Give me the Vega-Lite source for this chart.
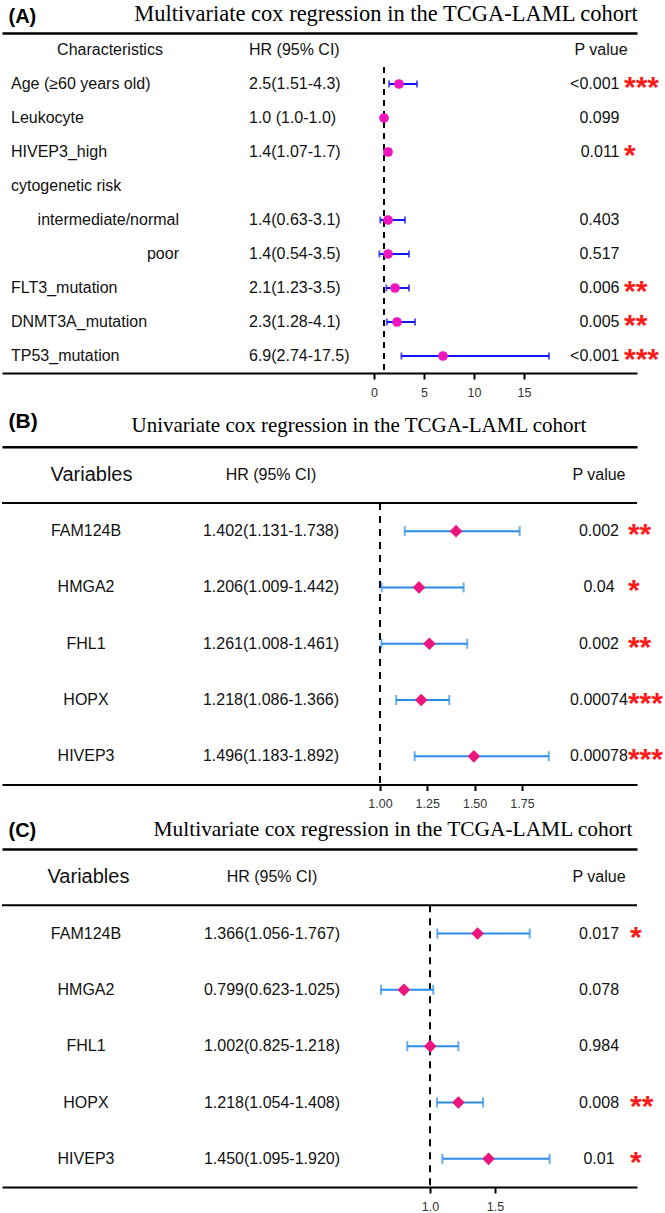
{
  "$schema": "https://vega.github.io/schema/vega-lite/v6.json",
  "background": "white",
  "padding": {"left": 1, "top": 2, "right": 0, "bottom": 0},
  "spacing": 64,
  "bounds": "flush",
  "config": {
    "view": {"stroke": null},
    "font": "Liberation Sans",
    "text": {"font": "Liberation Sans", "fontSize": 16, "color": "#111111", "baseline": "middle"},
    "axis": {"labelFont": "Liberation Sans", "title": null}
  },
  "datasets": {
    "ha": [{"tag": "(A)", "title": "Multivariate cox regression in the TCGA-LAML cohort", "c1": "Characteristics", "c2": "HR (95% CI)", "c3": "P value"}],
    "hb": [{"tag": "(B)", "title": "Univariate cox regression in the TCGA-LAML cohort", "c1": "Variables", "c2": "HR (95% CI)", "c3": "P value"}],
    "hc": [{"tag": "(C)", "title": "Multivariate cox regression in the TCGA-LAML cohort", "c1": "Variables", "c2": "HR (95% CI)", "c3": "P value"}],
    "a": [
      {"var": "Age (≥60 years old)", "level": 0, "hr": 2.5, "lo": 1.51, "hi": 4.3, "ci": "2.5(1.51-4.3)", "p": "<0.001", "sig": "***"},
      {"var": "Leukocyte", "level": 0, "hr": 1.0, "lo": 1.0, "hi": 1.0, "ci": "1.0 (1.0-1.0)", "p": "0.099", "sig": ""},
      {"var": "HIVEP3_high", "level": 0, "hr": 1.4, "lo": 1.07, "hi": 1.7, "ci": "1.4(1.07-1.7)", "p": "0.011", "sig": "*"},
      {"var": "cytogenetic risk", "level": 0, "hr": null, "lo": null, "hi": null, "ci": "", "p": "", "sig": ""},
      {"var": "intermediate/normal", "level": 1, "hr": 1.4, "lo": 0.63, "hi": 3.1, "ci": "1.4(0.63-3.1)", "p": "0.403", "sig": ""},
      {"var": "poor", "level": 1, "hr": 1.4, "lo": 0.54, "hi": 3.5, "ci": "1.4(0.54-3.5)", "p": "0.517", "sig": ""},
      {"var": "FLT3_mutation", "level": 0, "hr": 2.1, "lo": 1.23, "hi": 3.5, "ci": "2.1(1.23-3.5)", "p": "0.006", "sig": "**"},
      {"var": "DNMT3A_mutation", "level": 0, "hr": 2.3, "lo": 1.28, "hi": 4.1, "ci": "2.3(1.28-4.1)", "p": "0.005", "sig": "**"},
      {"var": "TP53_mutation", "level": 0, "hr": 6.9, "lo": 2.74, "hi": 17.5, "ci": "6.9(2.74-17.5)", "p": "<0.001", "sig": "***"}
    ],
    "b": [
      {"var": "FAM124B", "hr": 1.402, "lo": 1.131, "hi": 1.738, "ci": "1.402(1.131-1.738)", "p": "0.002", "sig": "**"},
      {"var": "HMGA2", "hr": 1.206, "lo": 1.009, "hi": 1.442, "ci": "1.206(1.009-1.442)", "p": "0.04", "sig": "*"},
      {"var": "FHL1", "hr": 1.261, "lo": 1.008, "hi": 1.461, "ci": "1.261(1.008-1.461)", "p": "0.002", "sig": "**"},
      {"var": "HOPX", "hr": 1.218, "lo": 1.086, "hi": 1.366, "ci": "1.218(1.086-1.366)", "p": "0.00074", "sig": "***"},
      {"var": "HIVEP3", "hr": 1.496, "lo": 1.183, "hi": 1.892, "ci": "1.496(1.183-1.892)", "p": "0.00078", "sig": "***"}
    ],
    "c": [
      {"var": "FAM124B", "hr": 1.366, "lo": 1.056, "hi": 1.767, "ci": "1.366(1.056-1.767)", "p": "0.017", "sig": "*"},
      {"var": "HMGA2", "hr": 0.799, "lo": 0.623, "hi": 1.025, "ci": "0.799(0.623-1.025)", "p": "0.078", "sig": ""},
      {"var": "FHL1", "hr": 1.002, "lo": 0.825, "hi": 1.218, "ci": "1.002(0.825-1.218)", "p": "0.984", "sig": ""},
      {"var": "HOPX", "hr": 1.218, "lo": 1.054, "hi": 1.408, "ci": "1.218(1.054-1.408)", "p": "0.008", "sig": "**"},
      {"var": "HIVEP3", "hr": 1.45, "lo": 1.095, "hi": 1.92, "ci": "1.450(1.095-1.920)", "p": "0.01", "sig": "*"}
    ]
  },
  "vconcat": [
    {
      "width": 635, "height": 340,
      "data": {"name": "a"},
      "resolve": {"axis": {"x": "independent"}},
      "layer": [
        {"data": {"name": "ha"}, "mark": {"type": "text", "align": "center"},
         "encoding": {
           "x": {"datum": -26.4, "type": "quantitative", "scale": {"domain": [-37.2, 26.3], "nice": false, "zero": false},
                 "axis": {"orient": "top", "domain": true, "domainWidth": 2.5, "domainColor": "#000000", "ticks": false, "labels": false, "grid": false, "title": null}},
           "y": {"datum": "hdr", "type": "nominal", "scale": {"domain": ["hdr", "Age (≥60 years old)", "Leukocyte", "HIVEP3_high", "cytogenetic risk", "intermediate/normal", "poor", "FLT3_mutation", "DNMT3A_mutation", "TP53_mutation"], "paddingInner": 0, "paddingOuter": 0}, "axis": null},
           "text": {"field": "c1"}}},
        {"data": {"name": "ha"}, "mark": {"type": "text", "align": "left"},
         "encoding": {
           "x": {"datum": -12.5, "type": "quantitative", "scale": {"domain": [-37.2, 26.3], "nice": false, "zero": false}, "axis": null},
           "y": {"datum": "hdr", "type": "nominal", "scale": {"domain": ["hdr", "Age (≥60 years old)", "Leukocyte", "HIVEP3_high", "cytogenetic risk", "intermediate/normal", "poor", "FLT3_mutation", "DNMT3A_mutation", "TP53_mutation"], "paddingInner": 0, "paddingOuter": 0}, "axis": null},
           "text": {"field": "c2"}}},
        {"data": {"name": "ha"}, "mark": {"type": "text", "align": "center"},
         "encoding": {
           "x": {"datum": 22.7, "type": "quantitative", "scale": {"domain": [-37.2, 26.3], "nice": false, "zero": false}, "axis": null},
           "y": {"datum": "hdr", "type": "nominal", "scale": {"domain": ["hdr", "Age (≥60 years old)", "Leukocyte", "HIVEP3_high", "cytogenetic risk", "intermediate/normal", "poor", "FLT3_mutation", "DNMT3A_mutation", "TP53_mutation"], "paddingInner": 0, "paddingOuter": 0}, "axis": null},
           "text": {"field": "c3"}}},
        {"data": {"name": "ha"}, "mark": {"type": "text", "align": "left", "baseline": "alphabetic", "fontSize": 20, "fontWeight": "bold", "color": "#000000", "dy": -27.3},
         "encoding": {
           "x": {"datum": -36.55, "type": "quantitative", "scale": {"domain": [-37.2, 26.3], "nice": false, "zero": false}, "axis": null},
           "y": {"datum": "hdr", "type": "nominal", "scale": {"domain": ["hdr", "Age (≥60 years old)", "Leukocyte", "HIVEP3_high", "cytogenetic risk", "intermediate/normal", "poor", "FLT3_mutation", "DNMT3A_mutation", "TP53_mutation"], "paddingInner": 0, "paddingOuter": 0}, "axis": null},
           "text": {"field": "tag"}}},
        {"data": {"name": "ha"}, "mark": {"type": "text", "align": "center", "baseline": "alphabetic", "font": "Liberation Serif", "fontSize": 22.5, "color": "#000000", "dy": -29.3},
         "encoding": {
           "x": {"datum": 1.2, "type": "quantitative", "scale": {"domain": [-37.2, 26.3], "nice": false, "zero": false}, "axis": null},
           "y": {"datum": "hdr", "type": "nominal", "scale": {"domain": ["hdr", "Age (≥60 years old)", "Leukocyte", "HIVEP3_high", "cytogenetic risk", "intermediate/normal", "poor", "FLT3_mutation", "DNMT3A_mutation", "TP53_mutation"], "paddingInner": 0, "paddingOuter": 0}, "axis": null},
           "text": {"field": "title"}}},
        {"data": {"name": "ha"}, "mark": {"type": "rule", "strokeDash": [6, 5], "strokeWidth": 2, "color": "#000000"},
         "encoding": {
           "x": {"datum": 1, "type": "quantitative", "scale": {"domain": [-37.2, 26.3], "nice": false, "zero": false}, "axis": null},
           "y": {"datum": "Age (≥60 years old)", "type": "nominal", "bandPosition": 0, "scale": {"domain": ["hdr", "Age (≥60 years old)", "Leukocyte", "HIVEP3_high", "cytogenetic risk", "intermediate/normal", "poor", "FLT3_mutation", "DNMT3A_mutation", "TP53_mutation"], "paddingInner": 0, "paddingOuter": 0}, "axis": null},
           "y2": {"value": "height"}}},
        {"transform": [{"filter": "isValid(datum.hr)"}],
         "mark": {"type": "rule", "strokeWidth": 2, "color": "#1414F0"},
         "encoding": {
           "x": {"field": "lo", "type": "quantitative", "scale": {"domain": [-37.2, 26.3], "nice": false, "zero": false},
                 "axis": {"orient": "bottom", "values": [0, 5, 10, 15], "format": "d", "domain": true, "domainWidth": 2, "domainColor": "#000000", "ticks": true, "tickSize": 6, "tickWidth": 2, "tickColor": "#000000", "labelFontSize": 12.5, "labelColor": "#333333", "labelPadding": 7, "grid": false, "title": null}},
           "x2": {"field": "hi"},
           "y": {"field": "var", "type": "nominal", "scale": {"domain": ["hdr", "Age (≥60 years old)", "Leukocyte", "HIVEP3_high", "cytogenetic risk", "intermediate/normal", "poor", "FLT3_mutation", "DNMT3A_mutation", "TP53_mutation"], "paddingInner": 0, "paddingOuter": 0}, "axis": null}}},
        {"transform": [{"filter": "isValid(datum.hr)"}],
         "mark": {"type": "tick", "orient": "vertical", "size": 7, "thickness": 2, "color": "#1414F0"},
         "encoding": {
           "x": {"field": "lo", "type": "quantitative", "scale": {"domain": [-37.2, 26.3], "nice": false, "zero": false}, "axis": null},
           "y": {"field": "var", "type": "nominal", "scale": {"domain": ["hdr", "Age (≥60 years old)", "Leukocyte", "HIVEP3_high", "cytogenetic risk", "intermediate/normal", "poor", "FLT3_mutation", "DNMT3A_mutation", "TP53_mutation"], "paddingInner": 0, "paddingOuter": 0}, "axis": null}}},
        {"transform": [{"filter": "isValid(datum.hr)"}],
         "mark": {"type": "tick", "orient": "vertical", "size": 7, "thickness": 2, "color": "#1414F0"},
         "encoding": {
           "x": {"field": "hi", "type": "quantitative", "scale": {"domain": [-37.2, 26.3], "nice": false, "zero": false}, "axis": null},
           "y": {"field": "var", "type": "nominal", "scale": {"domain": ["hdr", "Age (≥60 years old)", "Leukocyte", "HIVEP3_high", "cytogenetic risk", "intermediate/normal", "poor", "FLT3_mutation", "DNMT3A_mutation", "TP53_mutation"], "paddingInner": 0, "paddingOuter": 0}, "axis": null}}},
        {"transform": [{"filter": "isValid(datum.hr)"}],
         "mark": {"type": "point", "shape": "circle", "filled": true, "size": 95, "opacity": 1, "color": "#EE16BE"},
         "encoding": {
           "x": {"field": "hr", "type": "quantitative", "scale": {"domain": [-37.2, 26.3], "nice": false, "zero": false}, "axis": null},
           "y": {"field": "var", "type": "nominal", "scale": {"domain": ["hdr", "Age (≥60 years old)", "Leukocyte", "HIVEP3_high", "cytogenetic risk", "intermediate/normal", "poor", "FLT3_mutation", "DNMT3A_mutation", "TP53_mutation"], "paddingInner": 0, "paddingOuter": 0}, "axis": null}}},
        {"transform": [{"filter": "datum.level == 0"}],
         "mark": {"type": "text", "align": "left"},
         "encoding": {
           "x": {"datum": -36.3, "type": "quantitative", "scale": {"domain": [-37.2, 26.3], "nice": false, "zero": false}, "axis": null},
           "y": {"field": "var", "type": "nominal", "scale": {"domain": ["hdr", "Age (≥60 years old)", "Leukocyte", "HIVEP3_high", "cytogenetic risk", "intermediate/normal", "poor", "FLT3_mutation", "DNMT3A_mutation", "TP53_mutation"], "paddingInner": 0, "paddingOuter": 0}, "axis": null},
           "text": {"field": "var"}}},
        {"transform": [{"filter": "datum.level == 1"}],
         "mark": {"type": "text", "align": "right"},
         "encoding": {
           "x": {"datum": -19.5, "type": "quantitative", "scale": {"domain": [-37.2, 26.3], "nice": false, "zero": false}, "axis": null},
           "y": {"field": "var", "type": "nominal", "scale": {"domain": ["hdr", "Age (≥60 years old)", "Leukocyte", "HIVEP3_high", "cytogenetic risk", "intermediate/normal", "poor", "FLT3_mutation", "DNMT3A_mutation", "TP53_mutation"], "paddingInner": 0, "paddingOuter": 0}, "axis": null},
           "text": {"field": "var"}}},
        {"mark": {"type": "text", "align": "left"},
         "encoding": {
           "x": {"datum": -12.5, "type": "quantitative", "scale": {"domain": [-37.2, 26.3], "nice": false, "zero": false}, "axis": null},
           "y": {"field": "var", "type": "nominal", "scale": {"domain": ["hdr", "Age (≥60 years old)", "Leukocyte", "HIVEP3_high", "cytogenetic risk", "intermediate/normal", "poor", "FLT3_mutation", "DNMT3A_mutation", "TP53_mutation"], "paddingInner": 0, "paddingOuter": 0}, "axis": null},
           "text": {"field": "ci"}}},
        {"mark": {"type": "text", "align": "right"},
         "encoding": {
           "x": {"datum": 24.55, "type": "quantitative", "scale": {"domain": [-37.2, 26.3], "nice": false, "zero": false}, "axis": null},
           "y": {"field": "var", "type": "nominal", "scale": {"domain": ["hdr", "Age (≥60 years old)", "Leukocyte", "HIVEP3_high", "cytogenetic risk", "intermediate/normal", "poor", "FLT3_mutation", "DNMT3A_mutation", "TP53_mutation"], "paddingInner": 0, "paddingOuter": 0}, "axis": null},
           "text": {"field": "p"}}},
        {"mark": {"type": "text", "align": "left", "baseline": "alphabetic", "fontSize": 30, "fontWeight": "bold", "color": "#FF1A1A", "dy": 13},
         "encoding": {
           "x": {"datum": 25.0, "type": "quantitative", "scale": {"domain": [-37.2, 26.3], "nice": false, "zero": false}, "axis": null},
           "y": {"field": "var", "type": "nominal", "scale": {"domain": ["hdr", "Age (≥60 years old)", "Leukocyte", "HIVEP3_high", "cytogenetic risk", "intermediate/normal", "poor", "FLT3_mutation", "DNMT3A_mutation", "TP53_mutation"], "paddingInner": 0, "paddingOuter": 0}, "axis": null},
           "text": {"field": "sig"}}}
      ]
    },
    {
      "width": 635, "height": 347.5,
      "data": {"name": "b"},
      "resolve": {"axis": {"x": "independent"}},
      "layer": [
        {"data": {"name": "hb"}, "mark": {"type": "text", "align": "center", "fontSize": 20},
         "encoding": {
           "x": {"datum": -0.524, "type": "quantitative", "scale": {"domain": [-0.997, 2.358], "nice": false, "zero": false},
                 "axis": {"orient": "top", "offset": -9.7, "domain": true, "domainWidth": 2.5, "domainColor": "#000000", "ticks": false, "labels": false, "grid": false, "title": null}},
           "y": {"datum": "hdr", "type": "nominal", "scale": {"domain": ["hdr", "FAM124B", "HMGA2", "FHL1", "HOPX", "HIVEP3"], "paddingInner": 0, "paddingOuter": 0.086, "align": 1}, "axis": null},
           "text": {"field": "c1"}}},
        {"data": {"name": "hb"}, "mark": {"type": "rule", "strokeWidth": 2, "color": "#000000"},
         "encoding": {
           "y": {"datum": "hdr", "type": "nominal", "bandPosition": 1, "scale": {"domain": ["hdr", "FAM124B", "HMGA2", "FHL1", "HOPX", "HIVEP3"], "paddingInner": 0, "paddingOuter": 0.086, "align": 1}, "axis": null}}},
        {"data": {"name": "hb"}, "mark": {"type": "text", "align": "center"},
         "encoding": {
           "x": {"datum": 0.4242, "type": "quantitative", "scale": {"domain": [-0.997, 2.358], "nice": false, "zero": false}, "axis": null},
           "y": {"datum": "hdr", "type": "nominal", "scale": {"domain": ["hdr", "FAM124B", "HMGA2", "FHL1", "HOPX", "HIVEP3"], "paddingInner": 0, "paddingOuter": 0.086, "align": 1}, "axis": null},
           "text": {"field": "c2"}}},
        {"data": {"name": "hb"}, "mark": {"type": "text", "align": "center"},
         "encoding": {
           "x": {"datum": 2.157, "type": "quantitative", "scale": {"domain": [-0.997, 2.358], "nice": false, "zero": false}, "axis": null},
           "y": {"datum": "hdr", "type": "nominal", "scale": {"domain": ["hdr", "FAM124B", "HMGA2", "FHL1", "HOPX", "HIVEP3"], "paddingInner": 0, "paddingOuter": 0.086, "align": 1}, "axis": null},
           "text": {"field": "c3"}}},
        {"data": {"name": "hb"}, "mark": {"type": "text", "align": "left", "baseline": "alphabetic", "fontSize": 21, "fontWeight": "bold", "color": "#000000", "dy": -46.4},
         "encoding": {
           "x": {"datum": -0.9625, "type": "quantitative", "scale": {"domain": [-0.997, 2.358], "nice": false, "zero": false}, "axis": null},
           "y": {"datum": "hdr", "type": "nominal", "scale": {"domain": ["hdr", "FAM124B", "HMGA2", "FHL1", "HOPX", "HIVEP3"], "paddingInner": 0, "paddingOuter": 0.086, "align": 1}, "axis": null},
           "text": {"field": "tag"}}},
        {"data": {"name": "hb"}, "mark": {"type": "text", "align": "center", "baseline": "alphabetic", "font": "Liberation Serif", "fontSize": 21, "color": "#000000", "dy": -42.4},
         "encoding": {
           "x": {"datum": 0.889, "type": "quantitative", "scale": {"domain": [-0.997, 2.358], "nice": false, "zero": false}, "axis": null},
           "y": {"datum": "hdr", "type": "nominal", "scale": {"domain": ["hdr", "FAM124B", "HMGA2", "FHL1", "HOPX", "HIVEP3"], "paddingInner": 0, "paddingOuter": 0.086, "align": 1}, "axis": null},
           "text": {"field": "title"}}},
        {"data": {"name": "hb"}, "mark": {"type": "rule", "strokeDash": [7, 6], "strokeWidth": 2, "color": "#000000"},
         "encoding": {
           "x": {"datum": 1, "type": "quantitative", "scale": {"domain": [-0.997, 2.358], "nice": false, "zero": false}, "axis": null},
           "y": {"datum": "FAM124B", "type": "nominal", "bandPosition": 0, "scale": {"domain": ["hdr", "FAM124B", "HMGA2", "FHL1", "HOPX", "HIVEP3"], "paddingInner": 0, "paddingOuter": 0.086, "align": 1}, "axis": null},
           "y2": {"value": "height"}}},
        {"mark": {"type": "rule", "strokeWidth": 2, "color": "#2B8CE6"},
         "encoding": {
           "x": {"field": "lo", "type": "quantitative", "scale": {"domain": [-0.997, 2.358], "nice": false, "zero": false},
                 "axis": {"orient": "bottom", "values": [1, 1.25, 1.5, 1.75], "format": ".2f", "domain": true, "domainWidth": 2, "domainColor": "#000000", "ticks": true, "tickSize": 6, "tickWidth": 2, "tickColor": "#000000", "labelFontSize": 12.5, "labelColor": "#333333", "labelPadding": 7, "grid": false, "title": null}},
           "x2": {"field": "hi"},
           "y": {"field": "var", "type": "nominal", "scale": {"domain": ["hdr", "FAM124B", "HMGA2", "FHL1", "HOPX", "HIVEP3"], "paddingInner": 0, "paddingOuter": 0.086, "align": 1}, "axis": null}}},
        {"mark": {"type": "tick", "orient": "vertical", "size": 10, "thickness": 2, "color": "#2B8CE6"},
         "encoding": {
           "x": {"field": "lo", "type": "quantitative", "scale": {"domain": [-0.997, 2.358], "nice": false, "zero": false}, "axis": null},
           "y": {"field": "var", "type": "nominal", "scale": {"domain": ["hdr", "FAM124B", "HMGA2", "FHL1", "HOPX", "HIVEP3"], "paddingInner": 0, "paddingOuter": 0.086, "align": 1}, "axis": null}}},
        {"mark": {"type": "tick", "orient": "vertical", "size": 10, "thickness": 2, "color": "#2B8CE6"},
         "encoding": {
           "x": {"field": "hi", "type": "quantitative", "scale": {"domain": [-0.997, 2.358], "nice": false, "zero": false}, "axis": null},
           "y": {"field": "var", "type": "nominal", "scale": {"domain": ["hdr", "FAM124B", "HMGA2", "FHL1", "HOPX", "HIVEP3"], "paddingInner": 0, "paddingOuter": 0.086, "align": 1}, "axis": null}}},
        {"mark": {"type": "point", "shape": "diamond", "filled": true, "size": 160, "opacity": 1, "color": "#EC167E"},
         "encoding": {
           "x": {"field": "hr", "type": "quantitative", "scale": {"domain": [-0.997, 2.358], "nice": false, "zero": false}, "axis": null},
           "y": {"field": "var", "type": "nominal", "scale": {"domain": ["hdr", "FAM124B", "HMGA2", "FHL1", "HOPX", "HIVEP3"], "paddingInner": 0, "paddingOuter": 0.086, "align": 1}, "axis": null}}},
        {"mark": {"type": "text", "align": "center"},
         "encoding": {
           "x": {"datum": -0.553, "type": "quantitative", "scale": {"domain": [-0.997, 2.358], "nice": false, "zero": false}, "axis": null},
           "y": {"field": "var", "type": "nominal", "scale": {"domain": ["hdr", "FAM124B", "HMGA2", "FHL1", "HOPX", "HIVEP3"], "paddingInner": 0, "paddingOuter": 0.086, "align": 1}, "axis": null},
           "text": {"field": "var"}}},
        {"mark": {"type": "text", "align": "center"},
         "encoding": {
           "x": {"datum": 0.4242, "type": "quantitative", "scale": {"domain": [-0.997, 2.358], "nice": false, "zero": false}, "axis": null},
           "y": {"field": "var", "type": "nominal", "scale": {"domain": ["hdr", "FAM124B", "HMGA2", "FHL1", "HOPX", "HIVEP3"], "paddingInner": 0, "paddingOuter": 0.086, "align": 1}, "axis": null},
           "text": {"field": "ci"}}},
        {"mark": {"type": "text", "align": "center"},
         "encoding": {
           "x": {"datum": 2.157, "type": "quantitative", "scale": {"domain": [-0.997, 2.358], "nice": false, "zero": false}, "axis": null},
           "y": {"field": "var", "type": "nominal", "scale": {"domain": ["hdr", "FAM124B", "HMGA2", "FHL1", "HOPX", "HIVEP3"], "paddingInner": 0, "paddingOuter": 0.086, "align": 1}, "axis": null},
           "text": {"field": "p"}}},
        {"mark": {"type": "text", "align": "left", "baseline": "alphabetic", "fontSize": 30, "fontWeight": "bold", "color": "#FF1A1A", "dy": 13},
         "encoding": {
           "x": {"datum": 2.3101, "type": "quantitative", "scale": {"domain": [-0.997, 2.358], "nice": false, "zero": false}, "axis": null},
           "y": {"field": "var", "type": "nominal", "scale": {"domain": ["hdr", "FAM124B", "HMGA2", "FHL1", "HOPX", "HIVEP3"], "paddingInner": 0, "paddingOuter": 0.086, "align": 1}, "axis": null},
           "text": {"field": "sig"}}}
      ]
    },
    {
      "width": 635, "height": 338,
      "data": {"name": "c"},
      "resolve": {"axis": {"x": "independent"}},
      "layer": [
        {"data": {"name": "hc"}, "mark": {"type": "text", "align": "center", "fontSize": 20},
         "encoding": {
           "x": {"datum": -1.627, "type": "quantitative", "scale": {"domain": [-2.292, 2.592], "nice": false, "zero": false},
                 "axis": {"orient": "top", "domain": true, "domainWidth": 2.5, "domainColor": "#000000", "ticks": false, "labels": false, "grid": false, "title": null}},
           "y": {"datum": "hdr", "type": "nominal", "scale": {"domain": ["hdr", "FAM124B", "HMGA2", "FHL1", "HOPX", "HIVEP3"], "paddingInner": 0, "paddingOuter": 0}, "axis": null},
           "text": {"field": "c1"}}},
        {"data": {"name": "hc"}, "mark": {"type": "rule", "strokeWidth": 2, "color": "#000000"},
         "encoding": {
           "y": {"datum": "hdr", "type": "nominal", "bandPosition": 1, "scale": {"domain": ["hdr", "FAM124B", "HMGA2", "FHL1", "HOPX", "HIVEP3"], "paddingInner": 0, "paddingOuter": 0}, "axis": null}}},
        {"data": {"name": "hc"}, "mark": {"type": "text", "align": "center"},
         "encoding": {
           "x": {"datum": -0.2154, "type": "quantitative", "scale": {"domain": [-2.292, 2.592], "nice": false, "zero": false}, "axis": null},
           "y": {"datum": "hdr", "type": "nominal", "scale": {"domain": ["hdr", "FAM124B", "HMGA2", "FHL1", "HOPX", "HIVEP3"], "paddingInner": 0, "paddingOuter": 0}, "axis": null},
           "text": {"field": "c2"}}},
        {"data": {"name": "hc"}, "mark": {"type": "text", "align": "center"},
         "encoding": {
           "x": {"datum": 2.3, "type": "quantitative", "scale": {"domain": [-2.292, 2.592], "nice": false, "zero": false}, "axis": null},
           "y": {"datum": "hdr", "type": "nominal", "scale": {"domain": ["hdr", "FAM124B", "HMGA2", "FHL1", "HOPX", "HIVEP3"], "paddingInner": 0, "paddingOuter": 0}, "axis": null},
           "text": {"field": "c3"}}},
        {"data": {"name": "hc"}, "mark": {"type": "text", "align": "left", "baseline": "alphabetic", "fontSize": 20, "fontWeight": "bold", "color": "#000000", "dy": -40},
         "encoding": {
           "x": {"datum": -2.242, "type": "quantitative", "scale": {"domain": [-2.292, 2.592], "nice": false, "zero": false}, "axis": null},
           "y": {"datum": "hdr", "type": "nominal", "scale": {"domain": ["hdr", "FAM124B", "HMGA2", "FHL1", "HOPX", "HIVEP3"], "paddingInner": 0, "paddingOuter": 0}, "axis": null},
           "text": {"field": "tag"}}},
        {"data": {"name": "hc"}, "mark": {"type": "text", "align": "center", "baseline": "alphabetic", "font": "Liberation Serif", "fontSize": 21.4, "color": "#000000", "dy": -41},
         "encoding": {
           "x": {"datum": 0.7154, "type": "quantitative", "scale": {"domain": [-2.292, 2.592], "nice": false, "zero": false}, "axis": null},
           "y": {"datum": "hdr", "type": "nominal", "scale": {"domain": ["hdr", "FAM124B", "HMGA2", "FHL1", "HOPX", "HIVEP3"], "paddingInner": 0, "paddingOuter": 0}, "axis": null},
           "text": {"field": "title"}}},
        {"data": {"name": "hc"}, "mark": {"type": "rule", "strokeDash": [7, 6], "strokeWidth": 2, "color": "#000000"},
         "encoding": {
           "x": {"datum": 1, "type": "quantitative", "scale": {"domain": [-2.292, 2.592], "nice": false, "zero": false}, "axis": null},
           "y": {"datum": "FAM124B", "type": "nominal", "bandPosition": 0, "scale": {"domain": ["hdr", "FAM124B", "HMGA2", "FHL1", "HOPX", "HIVEP3"], "paddingInner": 0, "paddingOuter": 0}, "axis": null},
           "y2": {"value": "height"}}},
        {"mark": {"type": "rule", "strokeWidth": 2, "color": "#2B8CE6"},
         "encoding": {
           "x": {"field": "lo", "type": "quantitative", "scale": {"domain": [-2.292, 2.592], "nice": false, "zero": false},
                 "axis": {"orient": "bottom", "values": [1, 1.5], "format": ".1f", "domain": true, "domainWidth": 2, "domainColor": "#000000", "ticks": true, "tickSize": 6, "tickWidth": 2, "tickColor": "#000000", "labelFontSize": 12.5, "labelColor": "#333333", "labelPadding": 7, "grid": false, "title": null}},
           "x2": {"field": "hi"},
           "y": {"field": "var", "type": "nominal", "scale": {"domain": ["hdr", "FAM124B", "HMGA2", "FHL1", "HOPX", "HIVEP3"], "paddingInner": 0, "paddingOuter": 0}, "axis": null}}},
        {"mark": {"type": "tick", "orient": "vertical", "size": 10, "thickness": 2, "color": "#2B8CE6"},
         "encoding": {
           "x": {"field": "lo", "type": "quantitative", "scale": {"domain": [-2.292, 2.592], "nice": false, "zero": false}, "axis": null},
           "y": {"field": "var", "type": "nominal", "scale": {"domain": ["hdr", "FAM124B", "HMGA2", "FHL1", "HOPX", "HIVEP3"], "paddingInner": 0, "paddingOuter": 0}, "axis": null}}},
        {"mark": {"type": "tick", "orient": "vertical", "size": 10, "thickness": 2, "color": "#2B8CE6"},
         "encoding": {
           "x": {"field": "hi", "type": "quantitative", "scale": {"domain": [-2.292, 2.592], "nice": false, "zero": false}, "axis": null},
           "y": {"field": "var", "type": "nominal", "scale": {"domain": ["hdr", "FAM124B", "HMGA2", "FHL1", "HOPX", "HIVEP3"], "paddingInner": 0, "paddingOuter": 0}, "axis": null}}},
        {"mark": {"type": "point", "shape": "diamond", "filled": true, "size": 160, "opacity": 1, "color": "#EC167E"},
         "encoding": {
           "x": {"field": "hr", "type": "quantitative", "scale": {"domain": [-2.292, 2.592], "nice": false, "zero": false}, "axis": null},
           "y": {"field": "var", "type": "nominal", "scale": {"domain": ["hdr", "FAM124B", "HMGA2", "FHL1", "HOPX", "HIVEP3"], "paddingInner": 0, "paddingOuter": 0}, "axis": null}}},
        {"mark": {"type": "text", "align": "center"},
         "encoding": {
           "x": {"datum": -1.646, "type": "quantitative", "scale": {"domain": [-2.292, 2.592], "nice": false, "zero": false}, "axis": null},
           "y": {"field": "var", "type": "nominal", "scale": {"domain": ["hdr", "FAM124B", "HMGA2", "FHL1", "HOPX", "HIVEP3"], "paddingInner": 0, "paddingOuter": 0}, "axis": null},
           "text": {"field": "var"}}},
        {"mark": {"type": "text", "align": "center"},
         "encoding": {
           "x": {"datum": -0.2154, "type": "quantitative", "scale": {"domain": [-2.292, 2.592], "nice": false, "zero": false}, "axis": null},
           "y": {"field": "var", "type": "nominal", "scale": {"domain": ["hdr", "FAM124B", "HMGA2", "FHL1", "HOPX", "HIVEP3"], "paddingInner": 0, "paddingOuter": 0}, "axis": null},
           "text": {"field": "ci"}}},
        {"mark": {"type": "text", "align": "center"},
         "encoding": {
           "x": {"datum": 2.3, "type": "quantitative", "scale": {"domain": [-2.292, 2.592], "nice": false, "zero": false}, "axis": null},
           "y": {"field": "var", "type": "nominal", "scale": {"domain": ["hdr", "FAM124B", "HMGA2", "FHL1", "HOPX", "HIVEP3"], "paddingInner": 0, "paddingOuter": 0}, "axis": null},
           "text": {"field": "p"}}},
        {"mark": {"type": "text", "align": "left", "baseline": "alphabetic", "fontSize": 30, "fontWeight": "bold", "color": "#FF1A1A", "dy": 13},
         "encoding": {
           "x": {"datum": 2.538, "type": "quantitative", "scale": {"domain": [-2.292, 2.592], "nice": false, "zero": false}, "axis": null},
           "y": {"field": "var", "type": "nominal", "scale": {"domain": ["hdr", "FAM124B", "HMGA2", "FHL1", "HOPX", "HIVEP3"], "paddingInner": 0, "paddingOuter": 0}, "axis": null},
           "text": {"field": "sig"}}}
      ]
    }
  ]
}
